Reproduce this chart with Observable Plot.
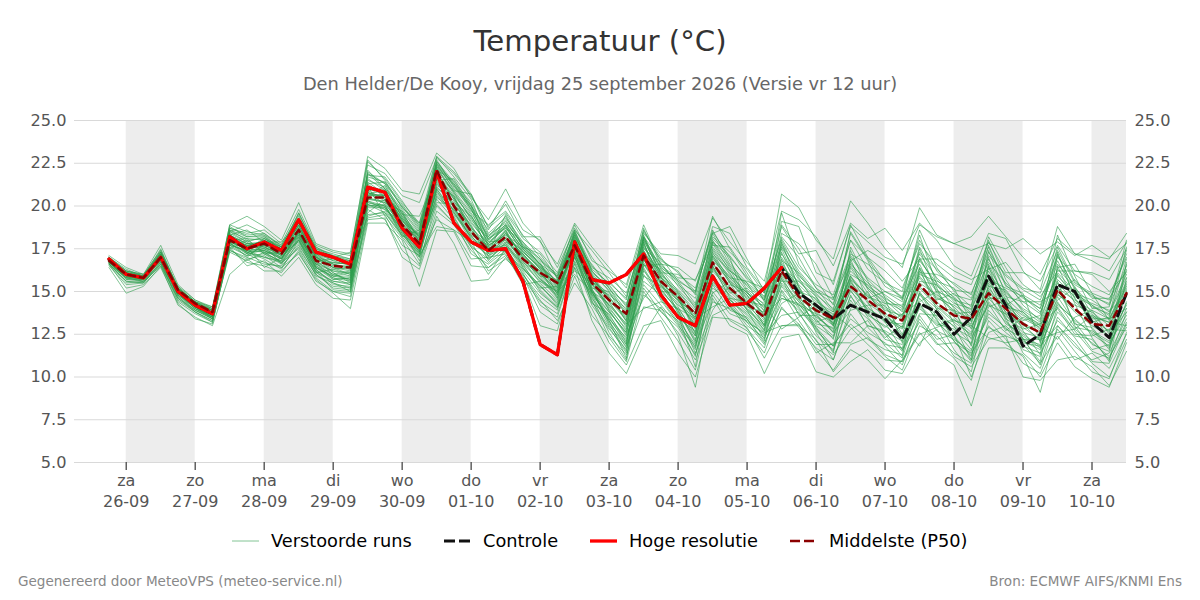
<!DOCTYPE html>
<html><head><meta charset="utf-8">
<script src="https://cdn.jsdelivr.net/npm/d3@7"></script>
<script src="https://cdn.jsdelivr.net/npm/@observablehq/plot@0.6"></script>
<style>
html,body{margin:0;padding:0;background:#fff;width:1200px;height:600px;overflow:hidden;font-family:"DejaVu Sans",sans-serif}
#title{position:absolute;left:0;width:1200px;top:24px;text-align:center;font-size:29.2px;line-height:34px;color:#333}
#sub{position:absolute;left:0;width:1200px;top:73px;text-align:center;font-size:17.8px;line-height:22px;color:#666}
#chart{position:absolute;left:0;top:100px}
#legend{position:absolute;top:530px;left:0;width:1200px;height:22px;font-size:17.75px;line-height:22px;color:#000}
#legend span{position:absolute;white-space:nowrap}
#legend svg{position:absolute;top:0}
.foot{position:absolute;top:572px;font-size:13.55px;line-height:18px;color:#888}
</style></head><body>
<div id="title">Temperatuur (°C)</div>
<div id="sub">Den Helder/De Kooy, vrijdag 25 september 2026 (Versie vr 12 uur)</div>
<div id="chart"></div>
<div id="legend"></div>
<div class="foot" style="left:18px">Gegenereerd door MeteoVPS (meteo-service.nl)</div>
<div class="foot" style="right:18px">Bron: ECMWF AIFS/KNMI Ens</div>
<script>
const startTime = "2026-09-25T18:00Z";
const dayLabels = ["za","zo","ma","di","wo","do","vr","za","zo","ma","di","wo","do","vr","za"];
const dateLabels = ["26-09","27-09","28-09","29-09","30-09","01-10","02-10","03-10","04-10","05-10","06-10","07-10","08-10","09-10","10-10"];
const tickDays = ["2026-09-26","2026-09-27","2026-09-28","2026-09-29","2026-09-30","2026-10-01","2026-10-02","2026-10-03","2026-10-04","2026-10-05","2026-10-06","2026-10-07","2026-10-08","2026-10-09","2026-10-10"];
const bandStarts = ["2026-09-26","2026-09-28","2026-09-30","2026-10-02","2026-10-04","2026-10-06","2026-10-08","2026-10-10"];
const yTicks = [5,7.5,10,12.5,15,17.5,20,22.5,25];

const hires = [16.9,16.0,15.8,17.0,15.0,14.2,13.7,18.2,17.5,17.9,17.4,19.2,17.3,17.0,16.6,21.1,20.8,18.7,17.6,22.0,19.0,17.9,17.4,17.5,15.6,11.9,11.3,17.9,15.7,15.5,16.0,17.2,14.8,13.5,13.0,15.9,14.2,14.3,15.2,16.4];
const control = [16.9,16.0,15.8,17.0,15.0,14.2,13.7,18.2,17.5,17.9,17.4,19.2,17.3,17.0,16.6,21.1,20.8,18.7,17.6,22.0,19.0,17.9,17.4,17.5,15.6,11.9,11.3,17.9,15.7,15.5,16.0,17.2,14.8,13.5,13.0,15.9,14.2,14.3,15.2,16.4,14.9,14.2,13.4,14.2,13.8,13.4,12.2,14.3,13.8,12.5,13.5,15.9,14.2,11.8,12.5,15.4,15.0,13.2,12.3,14.9];
const p50 = [16.8,16.0,15.8,17.0,15.1,14.3,13.8,18.0,17.5,17.8,17.2,18.6,16.8,16.5,16.4,20.5,20.5,18.9,17.8,22.1,20.0,18.5,17.4,18.2,16.9,16.1,15.5,17.7,15.5,14.5,13.7,17.1,15.6,14.7,13.7,16.7,15.2,14.3,13.5,16.2,14.7,13.9,13.4,15.3,14.5,13.7,13.3,15.4,14.3,13.6,13.4,14.9,14.0,13.1,12.6,15.1,14.0,13.1,13.0,14.9];

const runs = [
[17.1,16.4,16.0,17.7,15.4,14.5,14.1,18.9,19.4,18.8,18.0,20.2,17.8,17.4,17.2,22.9,22.2,20.9,20.7,23.1,22.2,20.5,19.2,21.0,19.0,17.9,16.6,19.0,17.6,16.4,15.2,18.6,16.8,16.2,14.8,18.8,18.4,16.4,15.1,20.7,19.9,18.0,16.9,20.3,19.0,17.5,16.4,19.9,18.3,17.8,18.2,19.4,18.2,17.0,16.0,18.1,17.2,16.8,16.2,17.9],
[16.9,16.2,15.9,17.4,15.2,14.4,13.9,18.5,18.9,18.4,17.6,19.6,17.5,17.2,16.9,22.4,21.9,20.6,20.2,22.8,21.9,20.6,18.8,20.1,18.2,18.2,16.4,18.6,17.4,16.1,14.7,18.4,17.2,17.1,16.6,19.3,17.9,16.7,15.6,19.7,19.2,18.2,16.5,19.0,18.1,18.7,17.4,19.0,18.0,16.5,15.9,18.4,18.1,16.2,15.1,18.8,17.2,17.1,16.9,18.4],
[16.8,16.1,15.9,17.2,15.3,14.3,14.0,18.8,18.2,18.2,17.4,19.2,17.6,17.0,17.3,22.7,21.5,19.9,19.0,22.3,21.2,19.7,18.9,19.7,18.3,17.0,15.9,18.9,16.8,16.2,15.4,18.9,16.6,16.4,15.6,18.4,18.8,16.9,15.0,19.1,18.8,16.1,15.6,18.8,17.9,17.0,16.6,18.9,18.2,17.8,17.4,17.8,17.5,18.1,17.2,17.9,17.1,17.7,17.0,17.8],
[16.9,16.0,15.8,17.3,15.0,14.4,13.7,18.3,18.6,17.9,17.9,19.0,17.2,16.8,16.8,22.0,21.3,19.5,19.4,21.8,20.9,20.7,18.4,19.3,17.9,16.9,15.8,18.2,16.4,15.8,14.9,18.0,16.1,16.0,15.2,18.2,17.3,16.3,14.9,18.8,17.2,17.4,15.4,18.9,17.0,16.2,15.2,17.8,16.6,15.8,15.4,17.9,16.1,16.1,15.6,17.7,16.2,16.1,15.7,17.5],
[16.4,14.9,15.3,16.5,14.2,13.5,13.0,16.0,16.9,17.1,16.4,17.2,15.7,14.9,14.0,19.0,19.0,18.0,15.3,18.6,18.5,16.5,16.4,17.1,15.9,13.8,13.1,15.9,13.6,12.4,11.3,14.1,13.9,12.6,11.0,13.6,14.1,13.2,12.6,13.0,13.1,11.4,12.0,12.0,13.0,12.6,11.6,13.2,11.9,12.0,11.4,12.9,12.4,12.0,11.8,13.0,11.8,11.0,11.4,13.4],
[16.6,15.2,15.4,16.4,14.3,13.4,13.1,17.6,16.5,16.8,15.9,17.0,15.4,14.6,14.5,19.2,19.3,17.0,16.3,19.4,17.8,15.6,15.7,17.0,15.7,13.0,12.7,16.4,13.3,11.4,10.2,12.5,14.1,12.4,9.4,14.6,13.0,12.5,10.2,12.3,12.5,10.3,10.0,10.9,11.6,10.4,10.2,12.0,12.8,11.2,10.6,12.2,12.4,10.0,9.8,11.0,11.2,10.6,9.5,11.5],
[16.5,15.4,15.5,16.6,14.4,13.7,13.2,17.4,16.9,16.2,16.2,17.3,15.6,15.0,14.9,19.5,19.6,18.2,17.0,19.2,18.6,17.9,16.2,16.9,16.0,14.5,13.3,15.5,14.0,12.0,10.7,13.0,13.3,11.4,10.0,13.5,13.4,12.9,11.1,13.0,13.0,12.2,10.3,11.6,11.0,9.9,11.0,12.6,11.4,10.7,8.3,11.7,11.7,11.3,10.0,12.0,10.6,9.9,9.4,12.0],
[16.6,15.6,15.5,16.7,14.5,13.8,13.3,17.9,17.0,16.6,16.5,17.6,16.0,15.2,15.1,19.9,19.9,18.6,16.8,20.0,19.0,17.6,16.0,17.5,16.2,14.9,14.1,16.4,14.8,13.0,11.8,14.8,14.0,13.3,11.9,14.4,14.0,13.4,12.0,14.0,13.1,11.6,10.4,11.9,12.3,11.2,10.4,13.0,12.4,11.4,10.8,13.0,11.9,11.2,9.1,13.0,12.0,10.8,10.0,12.2],
[16.7,15.7,15.7,16.8,14.7,13.9,13.4,17.7,17.4,17.0,16.7,18.0,16.2,15.6,15.4,20.1,19.6,18.3,17.2,20.6,19.4,17.6,16.9,17.8,16.5,15.3,14.4,17.0,15.0,13.4,12.3,15.6,14.8,13.4,12.7,15.2,14.5,13.6,12.6,14.8,13.9,12.9,11.8,13.4,12.6,12.0,11.1,14.2,13.2,12.3,11.3,13.7,12.9,11.6,11.2,13.8,12.8,12.0,11.2,12.9],
[16.8,15.8,15.6,16.9,14.9,14.0,13.5,18.1,17.3,17.4,16.9,18.3,16.4,15.8,15.6,20.2,20.0,18.4,17.0,21.0,19.7,17.9,17.1,17.6,16.6,15.0,14.0,17.2,14.9,13.8,12.6,16.2,15.1,13.9,12.2,15.8,14.8,14.0,12.9,15.3,14.0,13.0,12.3,14.7,13.6,13.0,12.2,14.8,13.8,12.6,12.0,14.4,13.2,12.4,11.7,14.3,13.3,12.6,12.0,13.6],
[16.8,16.0,15.7,17.1,15.1,14.1,13.6,18.3,17.8,17.6,17.1,18.7,16.7,16.2,15.9,20.8,20.3,18.8,17.4,21.3,20.3,18.6,17.6,18.5,17.0,15.7,14.9,17.5,15.3,14.2,13.0,16.9,15.4,14.3,13.1,16.2,15.1,14.2,13.2,16.0,14.5,13.5,12.8,15.0,14.0,13.4,12.8,15.2,14.1,13.2,12.5,15.0,13.8,12.9,12.2,14.9,13.8,13.0,12.4,14.2],
[16.9,16.1,15.8,17.1,15.2,14.3,13.8,18.0,17.6,18.0,17.3,18.9,17.0,16.4,16.2,21.0,20.8,19.2,17.8,21.6,20.5,19.0,17.8,18.8,17.3,16.4,15.6,17.9,15.8,14.6,13.5,17.4,15.8,14.7,13.6,17.0,15.5,14.6,13.7,16.6,15.0,14.1,13.5,15.7,14.8,14.0,13.3,15.9,14.7,13.9,13.4,15.6,14.4,13.4,12.9,15.5,14.4,13.5,13.2,15.2],
[16.8,16.1,15.9,17.0,15.0,14.2,13.9,18.4,17.2,18.1,17.5,18.4,16.9,16.6,16.3,20.6,20.7,19.4,18.1,22.2,20.7,19.3,17.5,18.4,17.1,16.2,15.2,17.4,15.4,14.8,14.0,17.6,16.0,15.1,14.1,17.4,16.0,14.9,14.1,17.0,15.4,14.4,13.8,16.2,15.2,14.4,13.9,16.4,15.1,14.3,14.0,16.0,14.9,14.0,13.4,16.1,15.0,14.1,13.7,15.8],
[16.7,16.0,15.8,16.9,15.1,14.4,13.8,17.8,17.7,17.5,17.0,18.2,16.6,16.7,16.6,20.4,20.2,18.7,17.6,22.5,20.9,19.6,18.0,18.9,17.5,16.6,15.9,17.8,16.0,15.1,14.3,16.8,16.3,15.4,14.6,18.0,16.5,15.3,14.5,17.6,15.9,15.0,14.3,17.1,15.8,15.0,14.4,17.2,15.8,14.8,14.5,16.7,15.5,14.6,14.0,16.6,15.4,14.8,14.2,16.5],
[16.9,16.2,16.0,17.2,15.3,14.5,14.0,18.6,18.2,18.3,17.7,19.4,17.4,17.1,16.8,21.5,21.1,19.8,18.5,22.6,21.4,20.2,18.3,19.0,17.8,16.8,16.0,18.3,16.3,15.5,14.6,18.2,16.9,16.1,15.0,18.5,17.0,15.8,14.9,18.1,16.4,15.4,14.8,18.0,16.3,15.5,15.0,18.0,16.2,15.1,14.9,17.3,15.9,15.1,14.5,17.0,16.0,15.3,14.8,17.0],
[16.7,15.9,15.7,17.0,14.9,14.1,13.5,18.5,17.9,17.2,16.8,18.5,16.5,16.0,15.7,20.9,21.0,19.1,18.3,22.0,20.4,18.8,16.8,17.9,17.2,15.9,14.7,18.0,15.7,14.0,12.8,17.9,15.0,14.9,13.3,16.5,14.9,15.2,14.2,15.6,15.6,14.7,13.1,15.6,13.7,12.9,13.7,14.4,15.0,14.6,12.8,15.3,15.1,13.8,12.8,14.5,15.2,13.4,13.4,14.0],
[16.6,15.8,15.6,16.7,14.8,14.0,13.6,17.5,18.0,17.3,17.2,17.9,16.3,15.4,15.3,19.6,20.4,18.5,17.2,21.1,20.2,19.4,17.9,18.0,16.8,15.5,14.5,17.0,14.6,13.3,11.1,16.0,14.6,13.2,11.6,15.5,14.3,13.0,12.3,14.3,14.9,12.6,11.0,14.0,15.0,13.2,11.6,13.7,13.6,13.0,11.0,14.1,14.5,12.2,11.9,15.6,13.0,11.6,11.9,15.0],
[17.0,16.3,15.9,17.5,15.2,14.2,13.8,18.7,18.4,18.6,17.8,19.8,17.7,17.3,17.1,21.8,21.7,20.3,18.8,21.5,21.6,20.0,18.6,20.3,18.6,18.0,15.7,17.6,16.6,15.2,13.9,18.7,16.5,15.8,15.7,17.7,17.6,16.1,14.4,18.4,17.8,16.6,14.6,16.8,17.4,16.8,15.6,16.9,16.9,16.2,15.7,16.3,16.7,15.4,14.7,16.2,16.2,16.0,15.0,16.1],
[16.7,15.9,15.8,16.8,15.0,14.2,13.7,17.6,17.1,17.7,16.6,18.1,16.1,16.3,16.0,20.3,19.8,19.0,18.0,20.8,19.8,18.1,17.3,18.6,16.4,15.2,15.3,17.3,14.3,13.7,12.0,15.9,15.3,14.5,12.9,14.9,15.6,14.8,13.0,15.8,13.6,13.6,12.6,13.9,14.2,14.2,12.5,14.1,13.0,13.4,12.4,15.8,13.4,12.8,13.1,14.0,12.5,12.4,12.8,12.7],
[16.9,16.1,15.7,17.1,15.1,14.3,13.7,18.1,17.5,18.1,17.6,18.8,17.1,15.9,16.1,20.7,20.6,19.6,17.5,21.9,19.9,18.3,17.7,18.3,17.6,16.7,14.8,18.1,15.2,15.0,13.2,17.0,15.5,14.1,12.4,16.8,15.8,15.6,15.2,16.5,15.3,13.2,13.6,15.5,14.6,15.0,14.6,16.6,14.5,14.9,13.7,14.7,14.2,14.8,14.2,16.8,14.8,14.3,13.9,14.7],
[16.8,15.9,15.7,17.2,14.8,14.1,13.4,18.2,17.3,16.9,16.3,18.0,15.9,15.5,15.0,21.2,19.4,18.1,16.6,20.4,19.2,17.2,16.6,17.4,16.1,14.2,13.5,16.7,14.2,12.8,11.6,15.2,13.8,12.9,11.3,15.0,13.7,13.3,12.5,13.6,13.8,12.1,11.3,12.8,13.3,11.8,10.7,13.6,12.2,12.5,10.0,12.6,13.0,11.9,10.8,12.4,11.0,11.4,10.5,12.5],
[16.8,16.0,15.8,17.0,15.2,14.4,14.1,18.0,18.1,17.2,17.3,18.3,16.8,16.9,16.7,20.0,20.1,18.2,18.6,22.4,21.0,19.9,17.0,18.1,17.4,16.3,14.6,17.1,15.9,14.4,12.9,16.5,16.6,15.5,14.0,17.2,16.2,15.5,14.7,16.8,16.1,14.8,14.0,16.6,15.5,14.8,14.1,16.0,15.6,15.2,13.2,16.4,14.7,14.4,14.4,15.0,15.7,14.6,14.6,16.2],
[16.7,15.7,15.6,16.7,14.7,13.8,13.3,17.3,16.8,17.3,16.7,17.5,16.0,15.3,15.2,19.3,19.5,17.7,17.1,18.8,18.6,16.9,17.0,17.2,15.4,15.6,15.0,16.0,15.0,14.3,13.1,14.0,14.4,14.0,13.4,14.1,14.6,14.4,14.2,12.8,13.5,14.2,13.7,12.9,11.9,11.0,10.9,12.5,12.9,13.3,13.0,12.3,12.0,12.2,12.2,12.6,12.8,13.6,13.2,13.0],
[16.8,16.0,15.9,16.9,15.0,14.3,13.9,17.9,17.6,16.4,17.0,18.4,16.7,15.7,15.8,20.6,21.2,19.3,18.2,20.2,20.1,18.9,17.2,19.5,17.7,16.9,15.4,16.2,15.5,13.9,12.5,14.6,15.9,13.7,11.4,13.9,15.4,15.0,13.6,14.6,14.2,13.7,13.2,14.3,13.4,12.3,13.0,11.8,14.0,13.9,12.2,14.3,12.7,13.5,13.0,12.2,13.5,13.9,12.5,13.8],
[16.7,16.1,15.8,17.1,14.9,14.1,13.5,18.1,17.7,17.9,16.9,18.6,17.1,16.1,15.5,20.5,20.2,19.7,17.9,21.2,20.6,18.4,17.5,17.7,16.7,16.0,15.1,17.6,15.1,13.5,11.9,17.3,14.9,13.6,10.6,16.4,14.7,13.8,12.8,15.7,14.4,13.1,12.9,15.9,14.3,13.6,12.9,15.6,15.4,14.0,11.8,15.1,13.6,12.6,12.3,15.3,13.1,12.9,11.7,14.4],
[16.9,15.9,15.7,16.9,15.0,14.2,13.6,17.7,17.4,17.5,17.4,18.2,16.6,16.2,16.1,20.0,20.0,18.6,18.4,21.7,19.6,18.2,17.4,18.0,16.9,15.9,15.7,17.7,15.6,14.9,13.7,17.8,15.7,14.4,13.8,17.6,16.3,14.5,13.3,17.3,15.0,14.6,13.0,17.4,15.1,14.1,13.5,17.5,14.9,13.7,13.8,17.0,14.2,13.3,13.6,17.3,14.6,13.2,13.5,16.9],
[16.8,16.0,15.8,17.0,15.0,14.1,13.7,17.4,17.0,17.8,17.1,18.5,17.0,16.5,16.5,19.4,19.7,18.3,17.7,20.1,19.0,17.8,17.6,17.3,16.3,15.4,14.2,16.8,14.7,12.6,11.0,17.2,16.2,14.6,12.8,17.9,17.0,14.1,13.8,18.9,17.5,15.7,14.2,18.4,16.8,14.6,12.0,16.1,16.0,15.5,14.8,17.6,15.3,14.9,12.0,16.4,16.6,14.9,13.3,15.5],
[16.6,15.5,15.6,16.5,14.6,13.9,13.4,18.0,17.2,16.7,16.4,17.7,16.2,15.1,15.0,20.7,20.9,19.0,17.6,20.9,19.3,17.7,16.7,17.6,16.0,14.7,13.9,17.2,15.2,13.1,11.5,16.7,15.2,13.8,12.1,16.0,14.2,12.8,11.7,15.0,13.3,11.9,11.9,13.1,12.2,11.6,11.3,14.6,13.4,11.6,10.3,14.6,13.5,11.4,10.5,13.5,12.3,10.9,10.8,13.1],
[16.9,16.1,15.9,17.3,15.1,14.3,13.8,18.4,17.9,18.2,17.6,19.1,17.3,16.8,16.5,21.3,20.5,19.1,18.0,22.3,20.8,19.2,18.1,18.7,17.9,16.5,15.6,18.4,16.1,15.3,14.2,18.1,16.4,15.7,14.9,18.6,16.8,15.1,14.0,19.6,16.6,15.2,13.9,18.5,16.9,15.3,14.7,18.3,15.4,14.5,14.2,18.0,15.7,14.2,13.3,18.3,15.9,14.0,14.1,18.0],
[16.8,16.0,15.7,17.1,15.0,14.2,13.6,18.3,17.6,17.7,17.2,18.9,16.9,16.3,16.4,20.9,20.4,18.8,17.3,21.4,20.0,18.0,17.1,18.2,17.2,16.1,15.0,17.9,15.6,14.7,13.4,16.6,15.3,14.2,13.5,16.6,15.7,14.7,13.9,16.3,14.8,14.3,13.1,16.0,15.4,14.5,13.6,15.5,14.8,14.1,13.0,14.6,14.6,13.7,12.7,14.8,14.2,13.8,13.0,15.4],
[16.7,15.8,15.9,16.8,14.9,14.0,13.5,17.8,17.3,17.0,16.8,18.1,16.4,15.9,15.9,20.2,19.9,18.5,17.3,21.0,19.5,18.2,17.3,17.9,16.6,15.6,14.8,17.3,14.8,13.6,12.2,15.4,14.2,13.0,11.8,15.4,13.9,13.5,12.4,15.1,13.7,12.4,11.6,14.5,13.0,12.7,12.1,14.0,13.1,12.8,11.6,13.5,12.6,11.8,11.4,13.3,12.4,12.2,11.0,13.8],
[16.8,16.0,15.8,17.0,15.1,14.3,13.9,18.2,17.7,17.7,17.3,18.7,17.2,16.6,16.4,20.6,20.6,19.5,18.3,21.8,20.5,18.7,17.8,18.9,17.5,16.4,15.3,18.5,16.2,15.0,13.8,17.5,16.7,15.3,14.2,17.8,16.2,15.4,14.6,17.2,15.7,14.9,13.8,15.8,14.7,14.3,14.2,16.9,15.3,14.7,13.6,15.7,15.2,14.7,13.8,15.9,14.9,14.5,13.8,16.0],
[16.9,16.1,15.8,17.2,15.2,14.3,13.6,18.6,18.0,18.1,17.5,19.3,17.2,16.4,16.0,21.9,21.3,20.0,18.6,22.9,21.7,20.4,18.0,19.2,17.6,16.6,15.5,18.3,15.9,14.1,12.7,18.3,16.0,14.8,12.5,17.5,16.1,14.2,12.7,17.9,15.2,13.4,12.2,17.6,15.6,13.8,12.4,17.0,15.2,13.1,11.9,17.4,14.8,12.7,11.3,17.2,15.1,12.8,11.6,16.7],
[16.7,15.9,15.8,16.9,14.9,14.1,13.6,17.9,17.5,17.4,16.9,18.5,16.5,15.8,15.4,22.1,21.0,19.6,18.1,22.7,21.1,20.0,17.6,18.6,17.0,16.0,14.9,17.8,15.0,13.2,11.9,17.9,15.4,13.9,12.0,17.1,15.5,13.9,12.2,16.9,14.6,12.9,11.4,16.9,14.4,12.5,11.2,16.4,13.9,12.1,11.0,16.5,13.7,12.2,10.9,16.5,14.3,12.3,10.9,15.8],
[16.8,16.0,15.9,17.1,15.0,14.2,13.7,18.1,17.7,17.6,17.2,18.7,16.8,16.1,15.6,21.6,20.9,19.4,18.2,22.5,21.3,20.1,17.7,18.3,17.3,16.4,15.4,18.2,15.7,13.9,12.4,17.7,15.9,14.6,13.2,17.3,15.6,14.4,13.0,17.5,15.3,13.7,12.6,16.4,14.9,13.5,12.9,16.2,14.4,13.5,12.6,16.6,14.5,13.0,12.6,16.0,14.6,13.6,12.3,16.3],
[16.8,15.9,15.7,17.0,14.9,14.0,13.4,18.0,17.4,17.3,16.7,18.2,16.3,15.5,15.2,21.4,20.7,19.2,17.9,22.2,20.8,19.5,17.4,18.5,16.9,15.8,14.6,17.7,15.0,13.3,11.7,16.9,14.9,13.5,11.7,16.5,14.6,13.4,12.1,15.9,14.1,12.7,11.8,15.7,13.8,12.6,11.5,15.0,13.5,12.4,11.2,15.4,13.3,12.1,11.6,14.7,13.2,11.9,11.5,15.1],
[17.0,16.2,16.0,17.4,15.2,14.4,14.0,18.9,18.5,18.3,17.4,19.6,17.6,17.1,16.9,22.6,21.6,20.2,19.0,22.9,22.0,20.7,18.7,19.6,18.1,17.3,16.1,18.7,17.0,15.6,14.5,18.5,17.0,15.6,15.0,19.4,17.5,15.9,14.5,18.2,17.0,15.2,14.5,18.0,17.0,15.6,14.5,18.6,16.4,15.0,14.1,18.2,16.4,14.7,14.0,17.6,15.6,14.7,14.3,17.4],
[16.8,16.1,15.8,17.1,15.1,14.2,13.7,18.2,17.8,17.9,17.3,18.9,17.0,16.7,16.6,21.2,20.6,19.3,18.0,21.9,20.6,19.4,17.9,18.7,17.4,16.3,15.4,18.1,15.9,14.7,13.3,18.0,16.1,14.9,13.4,16.9,15.9,14.9,14.3,16.4,15.6,14.5,13.6,16.5,15.2,14.3,13.4,16.3,15.0,13.8,13.1,16.2,14.3,13.6,13.1,15.7,14.7,14.2,13.4,15.6],
[16.7,15.8,15.7,16.8,14.8,13.9,13.5,17.7,17.1,17.2,16.6,17.8,16.1,15.6,15.5,20.8,20.1,18.9,17.5,20.5,19.8,18.5,17.2,17.8,16.4,15.1,14.1,17.1,14.4,12.9,11.4,16.3,14.5,13.1,11.2,15.6,14.4,13.2,11.9,14.6,14.3,12.8,11.5,14.8,12.9,11.9,11.7,14.9,13.3,12.1,10.9,13.9,12.8,12.3,10.7,14.1,12.7,11.5,11.1,13.2],
[16.9,16.0,15.8,17.1,15.1,14.3,13.8,18.3,17.8,17.8,17.5,19.0,17.1,16.6,16.7,21.7,21.4,19.9,18.9,22.1,21.5,19.8,18.2,19.1,17.7,16.6,15.2,18.4,16.0,14.4,13.6,18.1,16.3,15.0,13.9,17.9,16.4,15.0,13.4,17.7,15.8,14.2,13.0,17.0,15.7,14.7,13.8,16.8,15.5,14.4,13.3,16.9,15.0,13.9,13.2,16.3,15.3,13.7,12.6,16.6],
[16.8,16.0,15.8,17.0,15.0,14.2,13.7,17.9,17.6,17.6,17.1,18.4,16.6,16.0,16.2,20.4,20.3,19.0,17.4,21.5,19.9,18.6,17.3,18.4,17.1,16.1,15.1,17.6,15.4,14.2,13.1,17.2,15.6,14.5,13.0,16.7,15.0,14.0,13.1,16.1,14.6,13.8,13.0,15.2,14.1,13.2,13.1,15.3,14.2,13.3,12.9,15.2,14.0,13.2,12.5,15.0,13.9,13.3,12.7,14.8],
[16.6,15.6,15.5,16.6,14.6,13.8,13.2,17.5,16.7,16.5,16.1,17.4,15.8,15.0,14.7,19.8,19.2,17.4,16.5,19.7,18.9,17.4,16.4,17.3,15.8,14.4,13.7,16.6,14.5,12.3,10.9,15.0,13.5,12.1,10.4,14.8,13.3,12.7,11.4,14.1,12.9,11.7,11.0,13.7,12.4,11.3,10.9,13.4,12.0,11.1,9.8,13.3,12.2,10.8,10.2,12.8,11.5,10.3,9.9,12.6],
[16.9,16.1,15.9,17.2,15.1,14.3,13.9,18.5,18.1,18.0,17.6,19.2,17.3,16.9,16.7,21.3,21.4,20.1,18.7,22.6,21.2,20.0,18.2,19.4,17.6,17.2,15.8,18.5,16.5,15.4,14.1,18.2,16.4,15.6,14.3,18.1,17.1,15.7,14.7,17.8,16.2,15.0,14.6,17.2,16.6,15.7,14.6,17.3,16.3,15.4,14.6,17.1,16.0,15.2,14.9,17.4,15.5,14.9,14.5,17.2],
[16.8,15.9,15.7,17.0,14.9,14.1,13.5,17.8,17.2,17.4,17.0,18.0,16.4,15.7,15.8,20.1,19.8,18.4,17.1,20.7,19.6,18.3,16.9,17.7,16.3,15.3,14.3,17.0,14.9,13.4,12.1,16.4,14.7,13.7,12.4,16.0,14.5,13.7,12.7,15.4,14.2,13.3,12.4,15.1,13.5,12.2,11.9,14.3,12.7,12.2,11.5,14.8,13.1,12.5,11.8,14.2,13.4,12.5,11.8,14.0],
[17.0,16.2,15.9,17.3,15.2,14.4,13.9,18.7,18.3,18.4,17.7,19.5,17.5,17.0,16.8,21.9,21.0,19.7,18.4,22.4,21.3,19.8,18.1,18.9,17.5,16.5,15.4,18.6,16.2,15.2,13.6,18.2,15.8,15.0,13.7,18.4,16.6,15.5,13.8,18.0,16.0,14.7,13.4,16.7,15.3,14.6,14.0,17.6,15.7,14.6,13.9,17.7,15.4,14.4,13.7,17.1,15.2,14.2,13.6,17.6],
[16.7,15.8,15.8,16.9,14.9,14.1,13.6,17.8,17.3,17.5,16.9,18.4,16.4,15.9,15.7,20.3,20.0,18.6,17.3,21.1,20.1,18.8,17.5,18.1,16.7,15.7,15.0,17.4,15.1,13.8,12.6,16.6,15.0,14.0,12.6,16.3,15.3,13.9,13.0,15.5,14.4,13.6,12.7,15.4,13.9,13.3,12.3,14.9,14.0,12.9,12.3,14.2,13.7,13.1,12.1,14.4,12.9,12.7,12.1,14.3],
[16.8,16.0,15.8,17.1,15.0,14.2,13.8,18.2,17.6,17.9,17.3,18.8,17.0,16.4,16.3,20.8,20.5,19.2,18.2,21.7,20.4,19.1,17.7,18.8,17.2,16.2,15.5,18.0,15.8,14.5,13.3,17.4,15.5,14.6,13.5,17.1,15.8,14.8,13.6,16.7,15.1,14.0,13.3,15.9,14.7,13.9,13.6,15.8,14.6,14.2,13.5,15.5,14.1,13.8,13.0,15.2,14.5,13.9,13.4,15.3]
];
</script>
<script>
const parse = d3.isoParse;
const t0 = parse(startTime);
const timeAt = i => new Date(+t0 + i * 6 * 3600e3);
const xDomain = [new Date(Date.UTC(2026,8,25,6)), new Date(Date.UTC(2026,9,10,12))];
const runRows = runs.flatMap((r, k) => r.map((v, i) => ({t: timeAt(i), v, k})));
const rows = a => a.map((v, i) => ({t: timeAt(i), v}));
const tickDates = tickDays.map(d => parse(d + "T00:00Z"));
const labelOf = new Map(tickDates.map((d, i) => [+d, dayLabels[i] + "\n" + dateLabels[i]]));
const bands = bandStarts.map(d => {
  const a = parse(d + "T00:00Z");
  const b = new Date(+a + 24 * 3600e3);
  return {a, b: b > xDomain[1] ? xDomain[1] : b};
});
const plot = Plot.plot({
  width: 1200, height: 420,
  marginLeft: 74, marginRight: 74, marginTop: 20, marginBottom: 58,
  style: {fontFamily: '"DejaVu Sans",sans-serif', background: "transparent", overflow: "visible"},
  x: {type: "utc", domain: xDomain},
  y: {domain: [5, 25]},
  marks: [
    Plot.rectY(bands, {x1: "a", x2: "b", y1: 5, y2: 25, fill: "#ededed"}),
    Plot.ruleY(yTicks, {stroke: "#d9d9d9", strokeWidth: 1}),
    Plot.axisY({anchor: "left", ticks: yTicks, tickFormat: d => d.toFixed(1), tickSize: 0, tickPadding: 8, fontSize: 16.2, color: "#555", label: null}),
    Plot.axisY({anchor: "right", ticks: yTicks, tickFormat: d => d.toFixed(1), tickSize: 0, tickPadding: 8, fontSize: 16.2, color: "#555", label: null}),
    Plot.axisX({ticks: tickDates, tickFormat: d => labelOf.get(+d), tickSize: 8, tickPadding: 1, strokeWidth: 1.4, fontSize: 16, lineHeight: 1.3, color: "#555", stroke: "#555", label: null}),
    Plot.line(runRows, {x: "t", y: "v", z: "k", stroke: "#2e9e4f", strokeWidth: 1, strokeOpacity: 0.6}),
    Plot.line(rows(control), {x: "t", y: "v", stroke: "#111", strokeWidth: 3, strokeDasharray: "9,5"}),
    Plot.line(rows(hires), {x: "t", y: "v", stroke: "#ff0000", strokeWidth: 3.3}),
    Plot.line(rows(p50), {x: "t", y: "v", stroke: "#8b0000", strokeWidth: 2.5, strokeDasharray: "7,5"})
  ]
});
document.getElementById("chart").appendChild(plot);
const legendItems = [
  {label: "Verstoorde runs", x: 232, tx: 271, stroke: "#2e9e4f", w: 1, dash: null, op: .6},
  {label: "Controle", x: 444, tx: 483, stroke: "#111", w: 3, dash: "11,4", op: 1},
  {label: "Hoge resolutie", x: 590, tx: 629, stroke: "#ff0000", w: 3.3, dash: null, op: 1},
  {label: "Middelste (P50)", x: 790, tx: 829, stroke: "#8b0000", w: 2.5, dash: "10,4", op: 1}
];
const lg = d3.select("#legend");
for (const it of legendItems) {
  const s = lg.append("svg").attr("width", 27).attr("height", 22).style("left", it.x + "px");
  s.append("line").attr("x1", 0).attr("x2", 27).attr("y1", 11).attr("y2", 11)
    .attr("stroke", it.stroke).attr("stroke-width", it.w).attr("stroke-opacity", it.op)
    .attr("stroke-dasharray", it.dash);
  lg.append("span").style("left", it.tx + "px").text(it.label);
}
</script>
</body></html>
